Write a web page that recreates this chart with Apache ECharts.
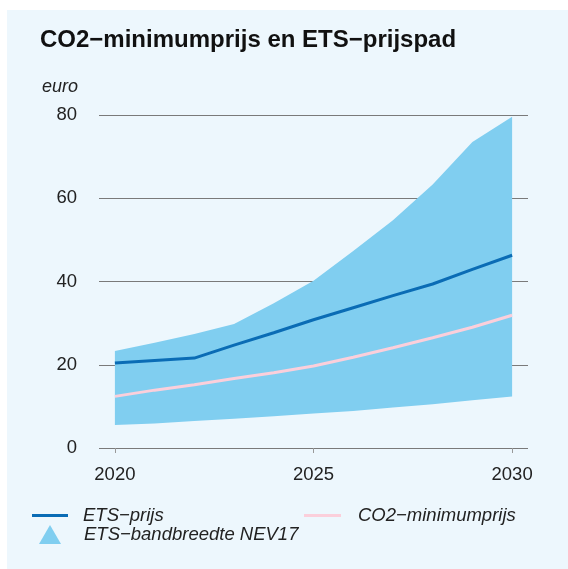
<!DOCTYPE html>
<html>
<head>
<meta charset="utf-8">
<script src="https://cdn.jsdelivr.net/npm/echarts@6/dist/echarts.min.js"></script>
<style>
  html, body { margin: 0; padding: 0; background: #fff; }
  #chart { width: 568px; height: 569px; }
</style>
</head>
<body>
<div id="chart"></div>
<script>
// jaren en waarden (euro)
const years = [2020, 2021, 2022, 2023, 2024, 2025, 2026, 2027, 2028, 2029, 2030]
const etsPrice = [20.4, 21.0, 21.6, 24.7, 27.7, 30.8, 33.7, 36.6, 39.4, 42.9, 46.3]
const co2Min = [12.4, 13.9, 15.2, 16.7, 18.1, 19.7, 21.8, 24.1, 26.5, 29.0, 31.9]
const bandLow = [5.5, 5.9, 6.5, 7.0, 7.6, 8.3, 8.9, 9.7, 10.5, 11.5, 12.4]
const bandHigh = [23.3, 25.3, 27.4, 29.8, 34.8, 40.2, 47.3, 54.7, 63.3, 73.5, 79.6]
const xTicks = [2020, 2025, 2030]

const NAME_ETS = 'ETS−prijs'
const NAME_CO2 = 'CO2−minimumprijs'
const NAME_BAND = 'ETS−bandbreedte NEV17'

const BAND_COLOR = '#80cef0'
const ETS_COLOR = '#0a6cb5'
const CO2_COLOR = '#fbcfdb'
const FONT = '"Liberation Sans", Arial, sans-serif'

const chart = echarts.init(document.getElementById('chart'))

const legendText = {
  fontFamily: FONT,
  fontSize: 18.5,
  fontStyle: 'italic',
  color: '#222',
  padding: [0, 0, 0, 10]
}

chart.setOption({
  animation: false,
  textStyle: { fontFamily: FONT },
  graphic: [
    {
      type: 'rect',
      z: -10,
      shape: { x: 7, y: 10, width: 561, height: 559 },
      style: { fill: '#edf7fd' }
    },
    {
      type: 'text',
      left: 40,
      top: 28,
      style: {
        text: 'CO2−minimumprijs en ETS−prijspad',
        font: 'bold 24px ' + FONT,
        fill: '#111'
      }
    },
    {
      type: 'text',
      left: 42,
      top: 78,
      style: {
        text: 'euro',
        font: 'italic 18px ' + FONT,
        fill: '#222'
      }
    }
  ],
  grid: { left: 99, right: 40, top: 115, bottom: 121 },
  xAxis: {
    type: 'value',
    min: 2019.6,
    max: 2030.4,
    offset: 13,
    splitLine: { show: false },
    axisLine: { show: false },
    axisTick: {
      show: true,
      length: 5,
      customValues: xTicks,
      lineStyle: { color: '#999' }
    },
    axisLabel: {
      customValues: xTicks,
      margin: 4,
      fontSize: 18.5,
      color: '#222',
      formatter: v => String(v)
    }
  },
  yAxis: {
    type: 'value',
    min: 0,
    max: 80,
    interval: 20,
    axisLine: { show: false },
    axisTick: { show: false },
    axisLabel: { fontSize: 18.5, color: '#222', margin: 22 },
    splitLine: { lineStyle: { color: '#7a7a7a', width: 1 } }
  },
  legend: [
    {
      data: [{ name: NAME_ETS, icon: 'rect' }],
      left: 32, top: 506, padding: 0,
      itemWidth: 36, itemHeight: 3,
      textStyle: legendText
    },
    {
      data: [{ name: NAME_CO2, icon: 'rect' }],
      left: 304, top: 506, padding: 0,
      itemWidth: 37, itemHeight: 3,
      textStyle: Object.assign({}, legendText, { padding: [0, 0, 0, 12] })
    },
    {
      data: [{ name: NAME_BAND, icon: 'triangle' }],
      left: 39, top: 525, padding: 0,
      itemWidth: 22, itemHeight: 19,
      textStyle: Object.assign({}, legendText, { padding: [0, 0, 0, 18] })
    }
  ],
  series: [
    {
      // bandbreedte als één vlak tussen onder- en bovengrens
      name: NAME_BAND,
      type: 'custom',
      itemStyle: { color: BAND_COLOR },
      encode: { x: 0, y: [1, 2] },
      data: years.map((y, i) => [y, bandLow[i], bandHigh[i]]),
      renderItem: (params, api) => {
        if (params.dataIndex !== 0) return null
        const upper = years.map((y, i) => api.coord([y, bandHigh[i]]))
        const lower = years.map((y, i) => api.coord([y, bandLow[i]])).reverse()
        return {
          type: 'polygon',
          shape: { points: upper.concat(lower) },
          style: { fill: BAND_COLOR }
        }
      }
    },
    {
      name: NAME_CO2,
      type: 'line',
      symbol: 'none',
      itemStyle: { color: CO2_COLOR },
      lineStyle: { color: CO2_COLOR, width: 3 },
      data: years.map((y, i) => [y, co2Min[i]])
    },
    {
      name: NAME_ETS,
      type: 'line',
      symbol: 'none',
      itemStyle: { color: ETS_COLOR },
      lineStyle: { color: ETS_COLOR, width: 3 },
      data: years.map((y, i) => [y, etsPrice[i]])
    }
  ]
})
</script>
</body>
</html>
